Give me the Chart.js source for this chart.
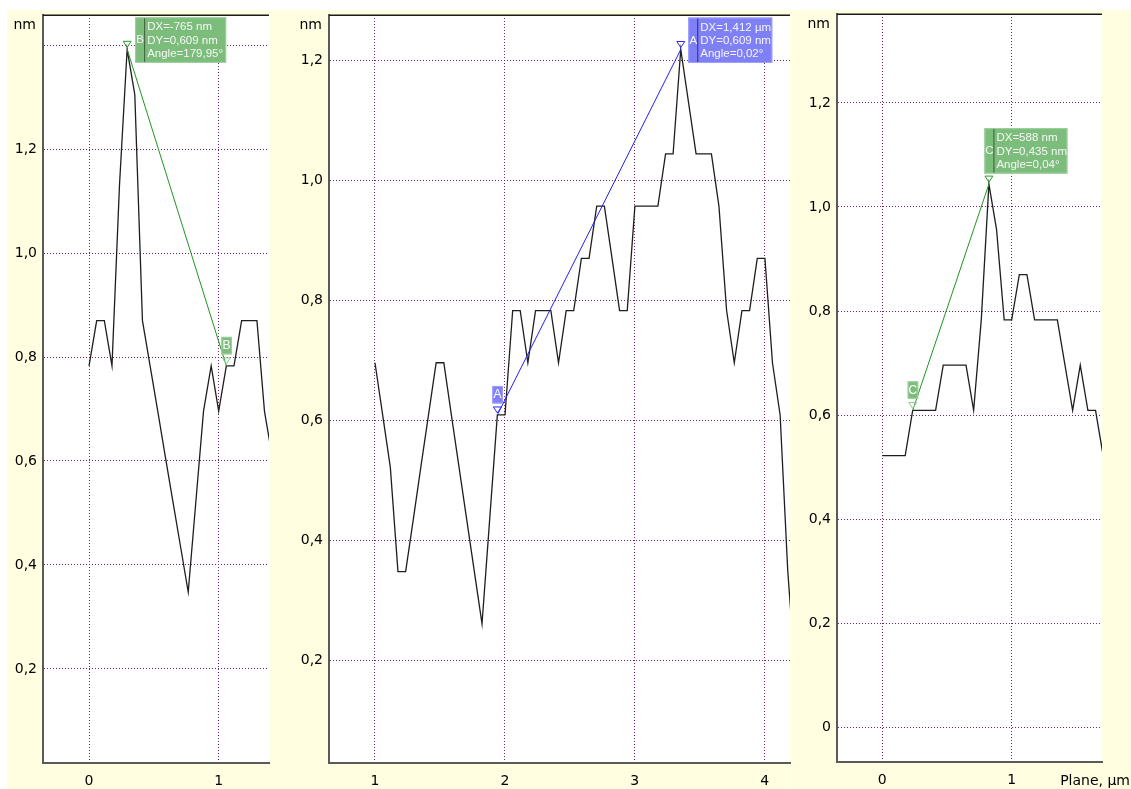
<!DOCTYPE html>
<html>
<head>
<meta charset="utf-8">
<script src="https://cdn.jsdelivr.net/npm/chart.js@4.4.1/dist/chart.umd.min.js"></script>
<style>
  html, body { margin: 0; padding: 0; background: #ffffff; width: 1131px; height: 789px; overflow: hidden; }
  .panel { position: absolute; top: 10px; height: 779px; background: #fffee0; }
  #p1 { left: 7px; width: 263px; }
  #p2 { left: 270px; width: 521px; }
  #p3 { left: 792px; width: 339px; }
  canvas { display: block; }
</style>
</head>
<body>
<div class="panel" id="p1"><canvas id="c1" width="263" height="779"></canvas></div>
<div class="panel" id="p2"><canvas id="c2" width="521" height="779"></canvas></div>
<div class="panel" id="p3"><canvas id="c3" width="339" height="779"></canvas></div>
<script>
// ---- Profile B (left panel): distance along the cut (µm) and height (nm)
const profileBx = [0, 0.059, 0.118, 0.177, 0.235, 0.294, 0.353, 0.412, 0.471, 0.530, 0.588, 0.647, 0.706,
                   0.765, 0.824, 0.883, 0.942, 1.000, 1.059, 1.118, 1.177, 1.236, 1.295, 1.353, 1.412];
const profileBy = [0.783, 0.870, 0.870, 0.783, 1.131, 1.392, 1.305, 0.870, 0.783, 0.696, 0.609, 0.522, 0.435,
                   0.348, 0.522, 0.696, 0.783, 0.696, 0.783, 0.783, 0.870, 0.870, 0.870, 0.696, 0.609];
const markersB = [{ x: 0.294, y: 1.392 }, { x: 1.059, y: 0.783 }];
const textB = ['DX=-765 nm', 'DY=0,609 nm', 'Angle=179,95°'];
const xTicksB = [0, 1];
const xLabelsB = ['0', '1'];
const yTicksB = [0.2, 0.4, 0.6, 0.8, 1.0, 1.2, 1.4];
const yLabelsB = ['0,2', '0,4', '0,6', '0,8', '1,0', '1,2', ''];

// ---- Profile A (middle panel)
const profileAx = [1.000, 1.059, 1.118, 1.177, 1.236, 1.295, 1.353, 1.412, 1.471, 1.530, 1.588, 1.647, 1.706,
                   1.765, 1.824, 1.883, 1.942, 2.001, 2.060, 2.118, 2.177, 2.236, 2.295, 2.354, 2.413, 2.472,
                   2.530, 2.589, 2.648, 2.707, 2.766, 2.825, 2.883, 2.942, 3.001, 3.060, 3.119, 3.178, 3.237,
                   3.295, 3.354, 3.413, 3.472, 3.531, 3.590, 3.648, 3.707, 3.766, 3.825, 3.884, 3.943, 4.002,
                   4.060, 4.119, 4.178, 4.237];
const profileAy = [0.696, 0.609, 0.522, 0.348, 0.348, 0.435, 0.522, 0.609, 0.696, 0.696, 0.609, 0.522, 0.435,
                   0.348, 0.261, 0.435, 0.609, 0.609, 0.783, 0.783, 0.696, 0.783, 0.783, 0.783, 0.696, 0.783,
                   0.783, 0.870, 0.870, 0.957, 0.957, 0.870, 0.783, 0.783, 0.957, 0.957, 0.957, 0.957, 1.044,
                   1.044, 1.218, 1.131, 1.044, 1.044, 1.044, 0.957, 0.783, 0.696, 0.783, 0.783, 0.870, 0.870,
                   0.696, 0.609, 0.348, 0.174];
const markersA = [{ x: 1.942, y: 0.609 }, { x: 3.354, y: 1.218 }];
const textA = ['DX=1,412 µm', 'DY=0,609 nm', 'Angle=0,02°'];
const xTicksA = [1, 2, 3, 4];
const xLabelsA = ['1', '2', '3', '4'];
const yTicksA = [0.2, 0.4, 0.6, 0.8, 1.0, 1.2];
const yLabelsA = ['0,2', '0,4', '0,6', '0,8', '1,0', '1,2'];

// ---- Profile C (right panel)
const profileCx = [0, 0.059, 0.118, 0.177, 0.235, 0.294, 0.353, 0.412, 0.471, 0.530, 0.588, 0.647, 0.706,
                   0.765, 0.824, 0.883, 0.942, 1.000, 1.059, 1.118, 1.177, 1.236, 1.295, 1.353, 1.412, 1.471,
                   1.530, 1.589, 1.648, 1.707];
const profileCy = [0.522, 0.522, 0.522, 0.522, 0.609, 0.609, 0.609, 0.609, 0.696, 0.696, 0.696, 0.696, 0.609,
                   0.783, 1.044, 0.957, 0.783, 0.783, 0.870, 0.870, 0.783, 0.783, 0.783, 0.783, 0.696, 0.609,
                   0.696, 0.609, 0.609, 0.522];
const markersC = [{ x: 0.235, y: 0.609 }, { x: 0.824, y: 1.044 }];
const textC = ['DX=588 nm', 'DY=0,435 nm', 'Angle=0,04°'];
const xTicksC = [0, 1];
const xLabelsC = ['0', '1'];
const yTicksC = [0, 0.2, 0.4, 0.6, 0.8, 1.0, 1.2];
const yLabelsC = ['0', '0,2', '0,4', '0,6', '0,8', '1,0', '1,2'];

const FONT = 'DejaVu Sans';
const BOX_FONT = 'Liberation Sans';
const GREEN = { fill: '#7cbd7c', edge: '#9fd09f', sep: '#3d5a3d', line: '#1f961f', tri: '#2a9a2a', tri2: '#8ccc8c' };
const BLUE = { fill: '#7f7ff6', edge: '#a0a0ff', sep: '#2a2a8a', line: '#2020ff', tri: '#2828ff', tri2: '#2828ff' };

function toPoints(xs, ys) { return xs.map((x, i) => ({ x: x, y: ys[i] })); }

// Overlay: white plot area, top frame line, unit label, cursor markers and readout boxes
function overlay(cfg) {
  return {
    id: 'overlay',
    beforeDraw(chart) {
      const { ctx, chartArea: a } = chart;
      ctx.save();
      ctx.fillStyle = '#ffffff';
      ctx.fillRect(a.left, a.top, a.right - a.left, a.bottom - a.top);
      ctx.restore();
    },
    afterDraw(chart) {
      const { ctx, chartArea: a } = chart;
      const sx = chart.scales.x, sy = chart.scales.y;
      const pal = cfg.palette;
      ctx.save();
      // top frame
      ctx.strokeStyle = '#1a1a1a';
      ctx.lineWidth = 1.5;
      ctx.beginPath();
      ctx.moveTo(a.left, a.top + 0.25);
      ctx.lineTo(a.right, a.top + 0.25);
      ctx.stroke();

      // unit labels
      ctx.fillStyle = '#000';
      ctx.font = '14px "' + FONT + '"';
      ctx.textAlign = 'right';
      ctx.textBaseline = 'middle';
      ctx.fillText('nm', a.left - 7, a.top + 10);
      if (cfg.xTitle) {
        ctx.fillText(cfg.xTitle, chart.width - 1, a.bottom + 19);
      }

      const pts = cfg.markers.map(m => ({ x: sx.getPixelForValue(m.x), y: sy.getPixelForValue(m.y) }));

      // cursor triangles
      pts.forEach((p, i) => {
        ctx.beginPath();
        ctx.moveTo(p.x - 4, p.y - 8);
        ctx.lineTo(p.x + 4, p.y - 8);
        ctx.lineTo(p.x, p.y - 2);
        ctx.closePath();
        ctx.lineWidth = 1;
        ctx.strokeStyle = i === cfg.bigAt ? pal.tri : pal.tri2;
        ctx.stroke();
      });

      // small letter tag
      const s = pts[cfg.smallAt];
      const tx = s.x - 5, ty = s.y - 29;
      ctx.fillStyle = pal.fill;
      ctx.fillRect(tx, ty, 10.5, 17.5);
      ctx.strokeStyle = pal.edge;
      ctx.lineWidth = 1;
      ctx.strokeRect(tx + 0.5, ty + 0.5, 9.5, 16.5);
      ctx.fillStyle = '#ffffff';
      ctx.font = '12px "' + BOX_FONT + '"';
      ctx.textAlign = 'center';
      ctx.fillText(cfg.letter, tx + 5.25, ty + 9);

      // readout box
      const b = pts[cfg.bigAt];
      const bx = b.x + cfg.boxDx, by = b.y + cfg.boxDy;
      const bw = cfg.boxW, bh = 45.5;
      ctx.fillStyle = pal.fill;
      ctx.fillRect(bx, by, bw, bh);
      ctx.strokeStyle = pal.edge;
      ctx.strokeRect(bx + 0.5, by + 0.5, bw - 1, bh - 1);
      ctx.strokeStyle = pal.sep;
      ctx.beginPath();
      ctx.moveTo(bx + 9.5, by + 1);
      ctx.lineTo(bx + 9.5, by + bh - 1);
      ctx.stroke();
      ctx.fillStyle = '#f6f6f6';
      ctx.font = '11.5px "' + BOX_FONT + '"';
      ctx.textAlign = 'center';
      ctx.fillText(cfg.letter, bx + 5, by + 23);
      ctx.textAlign = 'left';
      cfg.text.forEach((t, i) => ctx.fillText(t, bx + 12, by + 10 + i * 13.3));
      ctx.restore();
    }
  };
}

// keep the plot frame exactly where the layout puts it
function noEdgePadding(s) {
  s.paddingTop = 0; s.paddingBottom = 0; s.paddingLeft = 0; s.paddingRight = 0;
}

function makeChart(id, cfg) {
  return new Chart(document.getElementById(id), {
    type: 'scatter',
    data: {
      datasets: [
        { data: toPoints(cfg.xs, cfg.ys), showLine: true, borderColor: '#1e1e1e', borderWidth: 1.3,
          pointRadius: 0, tension: 0, order: 2 },
        { data: cfg.markers, showLine: true, borderColor: cfg.palette.line, borderWidth: 1,
          pointRadius: 0, tension: 0, order: 1 }
      ]
    },
    options: {
      responsive: false,
      animation: false,
      events: [],
      layout: { padding: { left: 0, top: cfg.padTop, right: cfg.padRight, bottom: 0 } },
      plugins: { legend: { display: false }, tooltip: { enabled: false } },
      scales: {
        x: {
          type: 'linear', min: cfg.xMin, max: cfg.xMax,
          afterBuildTicks: s => { s.ticks = cfg.xTicks.map(v => ({ value: v })); },
          afterFit: s => { s.height = cfg.xAxisH; noEdgePadding(s); },
          grid: { color: '#72256f', lineWidth: 1, drawTicks: false },
          border: { display: true, color: '#5a5a5a', width: 2, dash: [1, 2] },
          ticks: { color: '#000', font: { family: FONT, size: 14 }, padding: 10, maxRotation: 0,
                   callback: (v, i) => cfg.xLabels[i] }
        },
        y: {
          type: 'linear', min: cfg.yMin, max: cfg.yMax,
          afterBuildTicks: s => { s.ticks = cfg.yTicks.map(v => ({ value: v })); },
          afterFit: s => { s.width = cfg.yAxisW; noEdgePadding(s); },
          grid: { color: '#72256f', lineWidth: 1, drawTicks: false },
          border: { display: true, color: '#5a5a5a', width: 2, dash: [1, 2] },
          ticks: { color: '#000', font: { family: FONT, size: 14 }, padding: 6,
                   callback: (v, i) => cfg.yLabels[i] }
        }
      }
    },
    plugins: [overlay(cfg)]
  });
}

makeChart('c1', {
  xs: profileBx, ys: profileBy, markers: markersB, text: textB, letter: 'B', palette: GREEN,
  xTicks: xTicksB, xLabels: xLabelsB, yTicks: yTicksB, yLabels: yLabelsB,
  xMin: -0.355, xMax: 1.388, yMin: 0.019, yMax: 1.458,
  padTop: 5, padRight: 1, yAxisW: 36, xAxisH: 26,
  bigAt: 0, smallAt: 1, boxDx: 8, boxDy: -32, boxW: 91
});
makeChart('c2', {
  xs: profileAx, ys: profileAy, markers: markersA, text: textA, letter: 'A', palette: BLUE,
  xTicks: xTicksA, xLabels: xLabelsA, yTicks: yTicksA, yLabels: yLabelsA,
  xMin: 0.646, xMax: 4.195, yMin: 0.029, yMax: 1.2755,
  padTop: 5, padRight: 1, yAxisW: 59, xAxisH: 26,
  bigAt: 1, smallAt: 0, boxDx: 7.5, boxDy: -32, boxW: 84
});
makeChart('c3', {
  xs: profileCx, ys: profileCy, markers: markersC, text: textC, letter: 'C', palette: GREEN,
  xTicks: xTicksC, xLabels: xLabelsC, yTicks: yTicksC, yLabels: yLabelsC,
  xMin: -0.35, xMax: 1.698, yMin: -0.067, yMax: 1.371,
  padTop: 4, padRight: 29, yAxisW: 45, xAxisH: 27, xTitle: 'Plane, µm',
  bigAt: 1, smallAt: 0, boxDx: -4.5, boxDy: -56, boxW: 83
});
</script>
</body>
</html>
